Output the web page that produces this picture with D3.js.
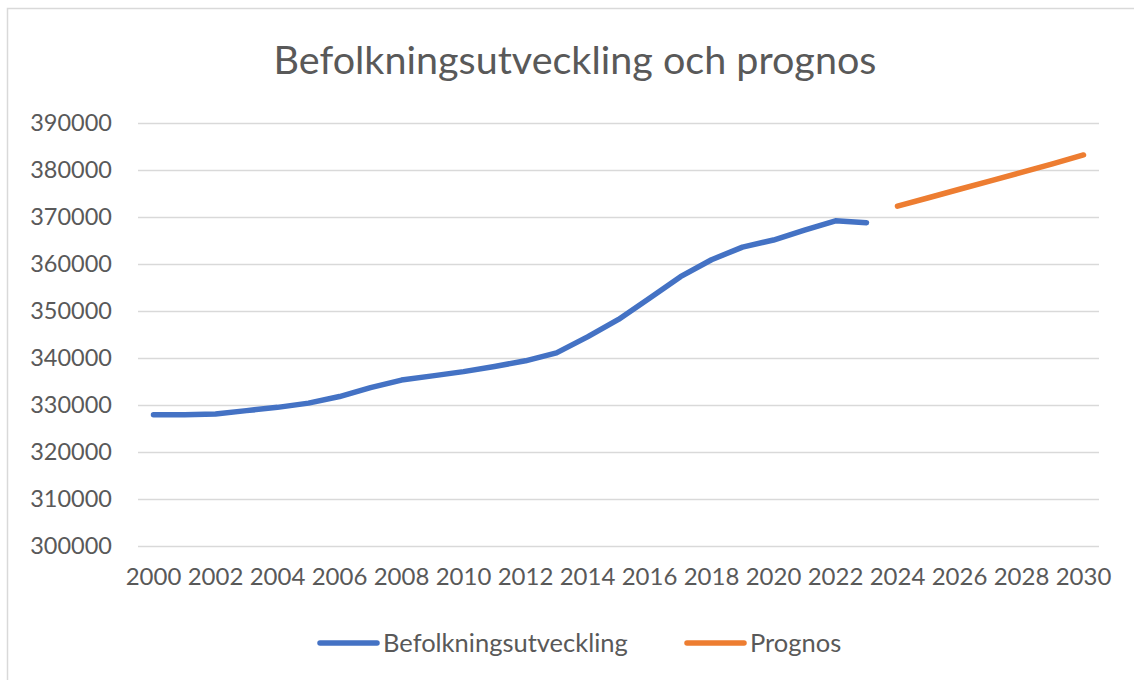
<!DOCTYPE html>
<html>
<head>
<meta charset="utf-8">
<script src="https://cdn.jsdelivr.net/npm/d3@7"></script>
<style>
  body { margin: 0; background: #fff; }
  svg text { font-family: Lato, "Open Sans", sans-serif; fill: #595959; }
</style>
</head>
<body>
<svg id="stage" width="1134" height="680"></svg>
<script>
// categories
var histYears = [2000, 2001, 2002, 2003, 2004, 2005, 2006, 2007, 2008, 2009, 2010, 2011,
                 2012, 2013, 2014, 2015, 2016, 2017, 2018, 2019, 2020, 2021, 2022, 2023];
var prognosYears = [2024, 2025, 2026, 2027, 2028, 2029, 2030];
var allYears = histYears.concat(prognosYears);

// series values
var histValues = [327900, 327900, 328100, 328800, 329500, 330400, 331800, 333700, 335300, 336200,
                  337100, 338200, 339400, 341100, 344500, 348200, 352700, 357300, 360900, 363600,
                  365100, 367200, 369200, 368800];
var prognosValues = [372300, 374100, 375900, 377700, 379500, 381300, 383200];

// tick labels
var yTicks = [300000, 310000, 320000, 330000, 340000, 350000, 360000, 370000, 380000, 390000];
var xTickLabels = [2000, 2002, 2004, 2006, 2008, 2010, 2012, 2014, 2016, 2018, 2020, 2022, 2024, 2026, 2028, 2030];

var seriesNames = ["Befolkningsutveckling", "Prognos"];
var colors = ["#4472C4", "#ED7D31"];

var svg = d3.select("#stage");

// chart border (runs off the right/bottom edge like the screenshot)
svg.append("rect")
  .attr("x", 7.5).attr("y", 8.5)
  .attr("width", 1140).attr("height", 700)
  .style("fill", "white").style("stroke", "#d9d9d9").style("stroke-width", 1.5);

// scales
var x = d3.scaleBand().domain(allYears).range([138, 1099]);
var y = d3.scaleLinear().domain([300000, 390000]).range([546, 123]);

function xc(yr) { return x(yr) + x.bandwidth() / 2; }

// title
svg.append("text")
  .attr("x", 575).attr("y", 74)
  .attr("text-anchor", "middle")
  .style("font-size", "39.5px")
  .text("Befolkningsutveckling och prognos");

// gridlines
svg.append("g").selectAll("line")
  .data(yTicks)
  .enter().append("line")
  .attr("x1", 138).attr("x2", 1099)
  .attr("y1", function(d){ return Math.round(y(d)) + 0.5; })
  .attr("y2", function(d){ return Math.round(y(d)) + 0.5; })
  .style("stroke", "#d9d9d9").style("stroke-width", 1.5);

// y axis
var yAxis = d3.axisLeft(y).tickValues(yTicks).tickSize(0).tickPadding(0).tickFormat(d3.format("d"));
var gy = svg.append("g").attr("transform", "translate(112,0)").call(yAxis);
gy.select(".domain").remove();
gy.selectAll("text").style("font-size", "23.5px").style("fill", "#595959").style("font-family", "Lato, sans-serif");

// x axis
var xAxis = d3.axisBottom(x).tickValues(xTickLabels).tickSize(0).tickPadding(0);
var gx = svg.append("g").attr("transform", "translate(0,568)").call(xAxis);
gx.select(".domain").remove();
gx.selectAll("text").style("font-size", "24px").style("fill", "#595959").style("font-family", "Lato, sans-serif");

// lines
var line = d3.line()
  .x(function(d){ return xc(d[0]); })
  .y(function(d){ return y(d[1]); });

svg.append("path")
  .datum(d3.zip(histYears, histValues))
  .attr("d", line)
  .style("fill", "none").style("stroke", colors[0]).style("stroke-width", 5.5)
  .style("stroke-linecap", "round").style("stroke-linejoin", "round");

svg.append("path")
  .datum(d3.zip(prognosYears, prognosValues))
  .attr("d", line)
  .style("fill", "none").style("stroke", colors[1]).style("stroke-width", 5.5)
  .style("stroke-linecap", "round").style("stroke-linejoin", "round");

// legend
var legendX = [320, 687];
var leg = svg.append("g").selectAll("g")
  .data(seriesNames)
  .enter().append("g")
  .attr("transform", function(d, i){ return "translate(" + legendX[i] + ",643)"; });

leg.append("line")
  .attr("x1", 0).attr("x2", 57).attr("y1", 0).attr("y2", 0)
  .style("stroke", function(d, i){ return colors[i]; })
  .style("stroke-width", 5.5).style("stroke-linecap", "round");

leg.append("text")
  .attr("x", 63).attr("y", 9)
  .style("font-size", "25.5px")
  .text(function(d){ return d; });
</script>
</body>
</html>
